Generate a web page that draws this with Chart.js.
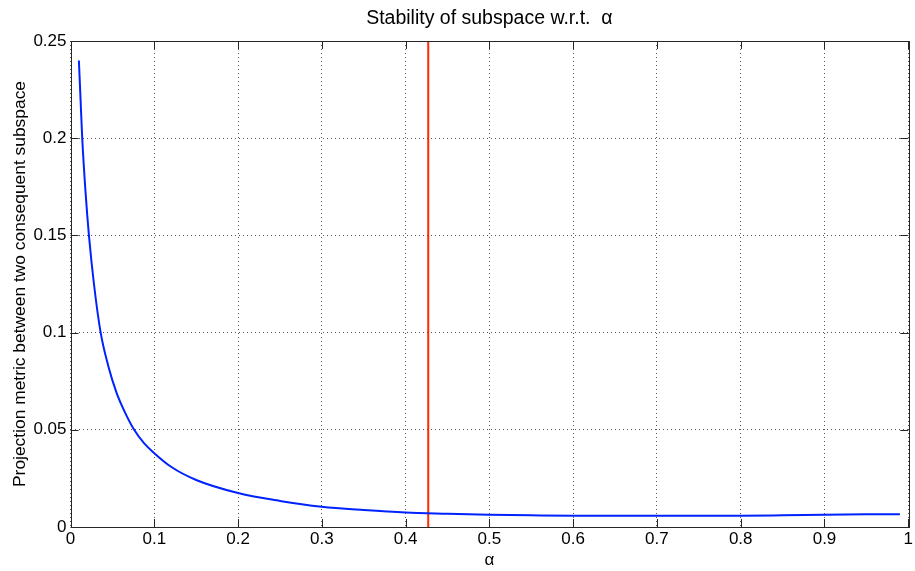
<!DOCTYPE html>
<html>
<head>
<meta charset="utf-8">
<script src="https://cdn.jsdelivr.net/npm/chart.js@4.4.1/dist/chart.umd.min.js"></script>
<style>
  body { margin: 0; background: #fff; }
</style>
</head>
<body>
<canvas id="myChart" width="915" height="571"></canvas>
<script>
// values
const alphaValues = [0.01, 0.012, 0.014, 0.018, 0.022, 0.028, 0.036, 0.045, 0.055, 0.065,
  0.076, 0.088, 0.1, 0.12, 0.15, 0.2, 0.25, 0.3, 0.35, 0.4,
  0.45, 0.5, 0.55, 0.6, 0.7, 0.8, 0.85, 0.9, 0.95, 0.99];
const metricValues = [0.24, 0.22, 0.2, 0.172, 0.15, 0.125, 0.1, 0.083, 0.069, 0.059,
  0.05, 0.043, 0.038, 0.031, 0.0242, 0.0175, 0.0134, 0.0104, 0.0087, 0.0074,
  0.0068, 0.0063, 0.006, 0.0058, 0.0058, 0.0058, 0.006, 0.0063, 0.0065, 0.0066];

const chosenAlpha = 0.427;
const xTicks = [0, 0.1, 0.2, 0.3, 0.4, 0.5, 0.6, 0.7, 0.8, 0.9, 1];
const yTicks = [0, 0.05, 0.1, 0.15, 0.2, 0.25];

const FONT = "'Liberation Sans', Arial, Helvetica, sans-serif";
const BOX = '#262626';

// matlab style box with inward ticks
const boxPlugin = {
  id: 'box',
  afterDatasetsDraw(chart) {
    const { ctx, chartArea: a, scales } = chart;
    ctx.save();
    ctx.strokeStyle = BOX;
    ctx.lineWidth = 1;
    ctx.beginPath();
    xTicks.forEach(v => {
      const x = Math.round(scales.x.getPixelForValue(v)) + 0.5;
      ctx.moveTo(x, a.bottom); ctx.lineTo(x, a.bottom - 8);
      ctx.moveTo(x, a.top); ctx.lineTo(x, a.top + 8);
    });
    yTicks.forEach(v => {
      const y = Math.round(scales.y.getPixelForValue(v)) + 0.5;
      ctx.moveTo(a.left, y); ctx.lineTo(a.left + 8, y);
      ctx.moveTo(a.right, y); ctx.lineTo(a.right - 8, y);
    });
    ctx.stroke();
    ctx.strokeRect(Math.round(a.left) + 0.5, Math.round(a.top) + 0.5,
      Math.round(a.right - a.left), Math.round(a.bottom - a.top));
    ctx.restore();
  }
};

const curvePoints = alphaValues.map((a, i) => ({ x: a, y: metricValues[i] }));
const markerPoints = [{ x: chosenAlpha, y: yTicks[0] }, { x: chosenAlpha, y: yTicks[yTicks.length - 1] }];

new Chart("myChart", {
  type: "line",
  data: {
    datasets: [{
      data: curvePoints,
      borderColor: "#0022ff",
      borderWidth: 2,
      pointRadius: 0,
      cubicInterpolationMode: 'monotone',
      fill: false
    }, {
      data: markerPoints,
      borderColor: "#ff2a00",
      borderWidth: 2,
      pointRadius: 0,
      fill: false
    }]
  },
  options: {
    responsive: false,
    animation: false,
    devicePixelRatio: 1,
    layout: { padding: { left: 10, right: 4.5, top: 0, bottom: 0 } },
    plugins: {
      legend: { display: false },
      tooltip: { enabled: false },
      title: {
        display: true,
        fullSize: false,
        text: "Stability of subspace w.r.t.  \u03b1",
        color: '#000',
        font: { family: FONT, size: 19.5, weight: 'normal' },
        padding: { top: 7, bottom: 10.6 }
      }
    },
    scales: {
      x: {
        type: 'linear',
        min: 0,
        max: 1,
        afterBuildTicks: s => { s.ticks = xTicks.map(v => ({ value: v })); },
        afterFit: s => { s.height = 44; },
        ticks: {
          color: '#000',
          padding: 2,
          maxRotation: 0,
          font: { family: FONT, size: 17 },
          callback: v => String(v)
        },
        grid: { color: '#555', drawTicks: false },
        border: { display: false, dash: [1, 3] },
        title: {
          display: true,
          text: "\u03b1",
          color: '#000',
          padding: 0,
          font: { family: FONT, size: 17 }
        }
      },
      y: {
        type: 'linear',
        min: 0,
        max: 0.25,
        afterBuildTicks: s => { s.ticks = yTicks.map(v => ({ value: v })); },
        afterFit: s => { s.width = 60.5; },
        ticks: {
          color: '#000',
          padding: 4,
          font: { family: FONT, size: 17 },
          callback: v => String(v)
        },
        grid: { color: '#555', drawTicks: false },
        border: { display: false, dash: [1, 3] },
        title: {
          display: true,
          text: "Projection metric between two consequent subspace",
          color: '#000',
          padding: 0,
          font: { family: FONT, size: 17.4 }
        }
      }
    }
  },
  plugins: [boxPlugin]
});
</script>
</body>
</html>
